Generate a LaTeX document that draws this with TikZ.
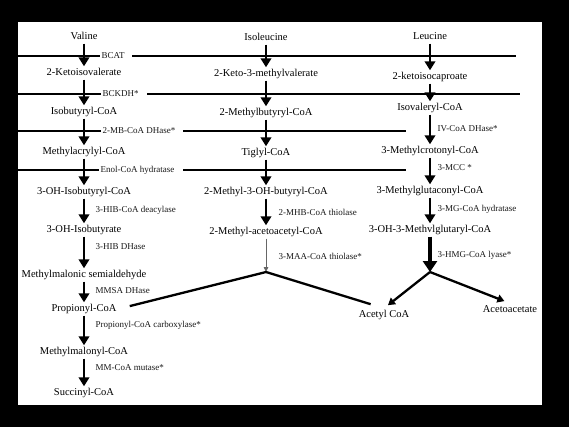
\documentclass[tikz,border=0pt]{standalone}
\usepackage{fontspec}
\setmainfont{Liberation Serif}
\usepackage{tikz}
\usetikzlibrary{arrows.meta, positioning}

\begin{document}
\begin{tikzpicture}[
        x=1pt, y=-1pt,
        metab/.style={font=\fontsize{10.5}{12}\selectfont, text=black, inner sep=1.5pt, text height=7.5pt, text depth=2.5pt},
        enz/.style={font=\fontsize{9}{10}\selectfont, text=black!90, inner sep=1.5pt, anchor=west},
        barline/.style={line width=2.5pt, black},
        conv/.style={-{Triangle[length=9pt, width=10.5pt]}, line width=2.5pt, black},
        bigconv/.style={-{Triangle[length=11pt, width=14pt]}, line width=3.6pt, black},
        thinconv/.style={-{Triangle[length=5pt, width=4.5pt]}, line width=0.8pt, black!60},
        split/.style={line width=2.3pt, black},
        splitconv/.style={-{Triangle[length=7pt, width=8pt]}, line width=2.3pt, black},
    ]
        \useasboundingbox (0,0) rectangle (569,427);
        \fill[black] (0,0) rectangle (569,427);
        \fill[white] (18,22) rectangle (542,405);

        % shared steps (lines across the columns)
        \node[enz] (bcat) at (100,56) {BCAT};
        \node[enz] (bckdh) at (101,94) {BCKDH*};
        \node[enz] (mbdh) at (101,131) {2-MB-CoA DHase*};
        \node[enz] (enol) at (99,170) {Enol-CoA hydratase};
        \coordinate (l1a) at (18,56);  \coordinate (l1b) at (516,56);
        \coordinate (l2a) at (18,94);  \coordinate (l2b) at (520,94);
        \coordinate (l3a) at (18,131); \coordinate (l3b) at (406,131);
        \coordinate (l4a) at (18,170); \coordinate (l4b) at (406,170);
        \draw[barline] (l1a) -- (bcat.west);  \draw[barline] ([xshift=6pt]bcat.east) -- (l1b);
        \draw[barline] (l2a) -- (bckdh.west); \draw[barline] ([xshift=7pt]bckdh.east) -- (l2b);
        \draw[barline] (l3a) -- (mbdh.west);  \draw[barline] ([xshift=6pt]mbdh.east) -- (l3b);
        \draw[barline] (l4a) -- (enol.west);  \draw[barline] ([xshift=7pt]enol.east) -- (l4b);

        % valine
        \node[metab] (valine) at (84,37) {Valine};
        \node[metab] (kiv) at (84,73) {2-Ketoisovalerate};
        \node[metab] (ibcoa) at (84,112) {Isobutyryl-CoA};
        \node[metab] (macoa) at (84,152) {Methylacrylyl-CoA};
        \node[metab] (ohibcoa) at (84,192) {3-OH-Isobutyryl-CoA};
        \node[metab] (ohib) at (84,230) {3-OH-Isobutyrate};
        \node[metab] (mmsa) at (84,275) {Methylmalonic semialdehyde};
        \node[metab] (propcoa) at (84,309) {Propionyl-CoA};
        \node[metab] (mmcoa) at (84,352) {Methylmalonyl-CoA};
        \node[metab] (succoa) at (84,393) {Succinyl-CoA};

        \node[enz] (hibcd) at (94,210) {3-HIB-CoA deacylase};
        \node[enz] (hibdh) at (94,247) {3-HIB DHase};
        \node[enz] (mmsadh) at (94,291) {MMSA DHase};
        \node[enz] (pcc) at (94,325) {Propionyl-CoA carboxylase*};
        \node[enz] (mcm) at (94,368) {MM-CoA mutase*};

        \draw[conv] (valine) -- (kiv);
        \draw[conv] (kiv) -- (ibcoa);
        \draw[conv] (ibcoa) -- (macoa);
        \draw[conv] (macoa) -- (ohibcoa);
        \draw[conv] (ohibcoa) -- (ohib);
        \draw[conv] (ohib) -- (mmsa);
        \draw[conv] (mmsa) -- (propcoa);
        \draw[conv] (propcoa) -- (mmcoa);
        \draw[conv] (mmcoa) -- (succoa);

        % isoleucine
        \node[metab] (ile) at (266,38) {Isoleucine};
        \node[metab] (kmv) at (266,74) {2-Keto-3-methylvalerate};
        \node[metab] (mbcoa) at (266,113) {2-Methylbutyryl-CoA};
        \node[metab] (tigcoa) at (266,153) {Tiglyl-CoA};
        \node[metab] (mhbcoa) at (266,192) {2-Methyl-3-OH-butyryl-CoA};
        \node[metab] (maacoa) at (266,232) {2-Methyl-acetoacetyl-CoA};
        \coordinate (isosplit) at (266,272);

        \node[enz] (mhbth) at (277,212) {2-MHB-CoA thiolase};
        \node[enz] (maath) at (277,256) {3-MAA-CoA thiolase*};

        \draw[conv] (ile) -- (kmv);
        \draw[conv] (kmv) -- (mbcoa);
        \draw[conv] (mbcoa) -- (tigcoa);
        \draw[conv] (tigcoa) -- (mhbcoa);
        \draw[conv] (mhbcoa) -- (maacoa);
        \draw[thinconv] (maacoa) -- (isosplit);

        % leucine
        \node[metab] (leu) at (430,37) {Leucine};
        \node[metab] (kic) at (430,77) {2-ketoisocaproate};
        \node[metab] (ivcoa) at (430,108) {Isovaleryl-CoA};
        \node[metab] (mccoa) at (430,151) {3-Methylcrotonyl-CoA};
        \node[metab] (mgcoa) at (430,191) {3-Methylglutaconyl-CoA};
        \node[metab] (hmgcoa) at (430,230) {3-OH-3-Methvlglutaryl-CoA};
        \coordinate (hmgsplit) at (430,272);

        \node[enz] (ivdh) at (436,129) {IV-CoA DHase*};
        \node[enz] (mcc) at (436,168) {3-MCC *};
        \node[enz] (mghy) at (436,209) {3-MG-CoA hydratase};
        \node[enz] (hmgly) at (436,255) {3-HMG-CoA lyase*};

        \draw[conv] (leu) -- (kic);
        \draw[conv] (kic) -- (ivcoa);
        \draw[conv] (ivcoa) -- (mccoa);
        \draw[conv] (mccoa) -- (mgcoa);
        \draw[conv] (mgcoa) -- (hmgcoa);
        \draw[bigconv] (hmgcoa) -- (hmgsplit);

        % end products
        \node[metab] (acetylcoa) at (384,315) {Acetyl CoA};
        \node[metab] (acac) at (510,310) {Acetoacetate};

        \draw[split, shorten >=12pt] (isosplit) -- (propcoa.east);
        \draw[split, shorten >=14pt] (isosplit) -- (acetylcoa.north);
        \draw[splitconv, shorten >=5pt] (hmgsplit) -- (acetylcoa.north);
        \draw[splitconv, shorten >=6pt] (hmgsplit) -- (acac.north);
    \end{tikzpicture}
\end{document}
